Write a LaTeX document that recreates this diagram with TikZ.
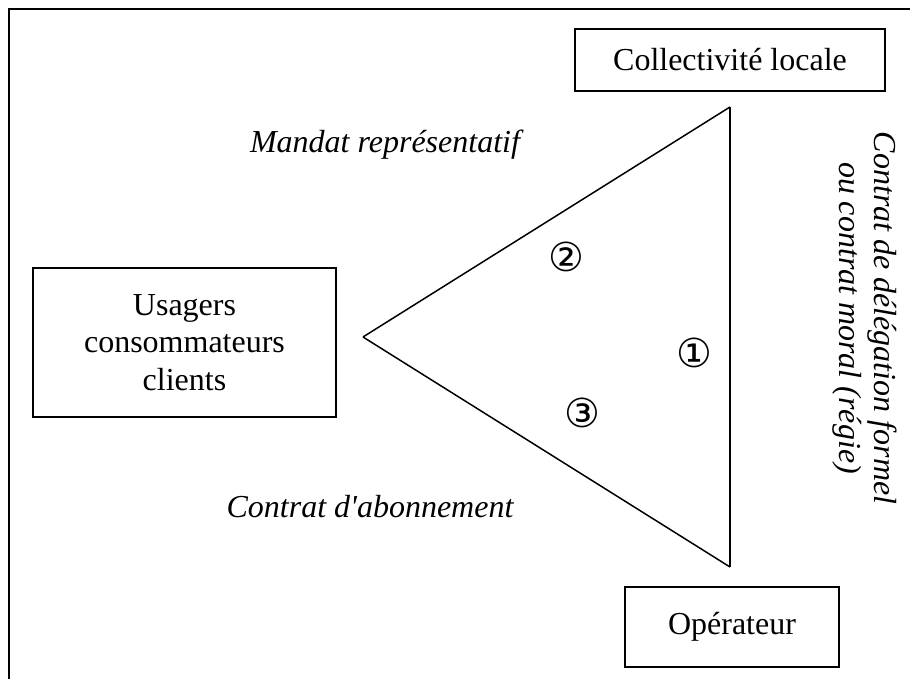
\documentclass[tikz,border=0pt]{standalone}
\usepackage{fontspec}
\setmainfont{Liberation Serif}
\newfontfamily\circfont{DejaVu Sans}
\usepackage{tikz}

\begin{document}
\begin{tikzpicture}
	[
		x=0.375pt, y=-0.375pt,
		box/.style = {rectangle, align=center, draw=black, line width=0.75pt, inner sep=0pt, font=\fontsize{12}{14}\selectfont},
		contrat/.style = {align=center, inner sep=0pt, font=\fontsize{12}{13.2}\selectfont\itshape},
		num/.style = {inner sep=0pt, font=\fontsize{15}{16}\circfont},
	]

	\useasboundingbox (0,0) rectangle (910,679);

	% frame
	\draw[line width=0.75pt] (910,9) -- (9,9) -- (9,679);

	% actors
	\node[box, minimum width=116.3pt, minimum height=23.3pt] (coll) 	at ( 730,  60 ) {Collectivité locale};
	\node[box, minimum width=113.6pt, minimum height=55.9pt] (usag) 	at ( 184.5, 342.5 ) {Usagers\\consommateurs\\clients};
	\node[box, minimum width=80.3pt, minimum height=30pt] (oper) 	at ( 732,  627 ) {Opérateur};

	% triangle corners
	\coordinate (t) at ( 730, 107 );
	\coordinate (l) at ( 363, 337 );
	\coordinate (b) at ( 730, 567 );

	\foreach \from/\to in {t/l,l/b,b/t}
	\draw[line width=0.56pt] (\from) -- (\to);

	% numbers
	\node[num] (n1) 	at ( 694, 353 ) {①};
	\node[num] (n2) 	at ( 566, 257 ) {②};
	\node[num] (n3) 	at ( 582, 413 ) {③};

	% contracts
	\node[contrat] (mand) 	at ( 385, 145 ) {Mandat représentatif};
	\node[contrat] (abon) 	at ( 370, 507 ) {Contrat d\textquotesingle abonnement};
	\node[contrat, rotate=-90] (dele) 	at ( 865, 318 ) {Contrat de délégation formel\\ou contrat moral (régie)};

\end{tikzpicture}
\end{document}
